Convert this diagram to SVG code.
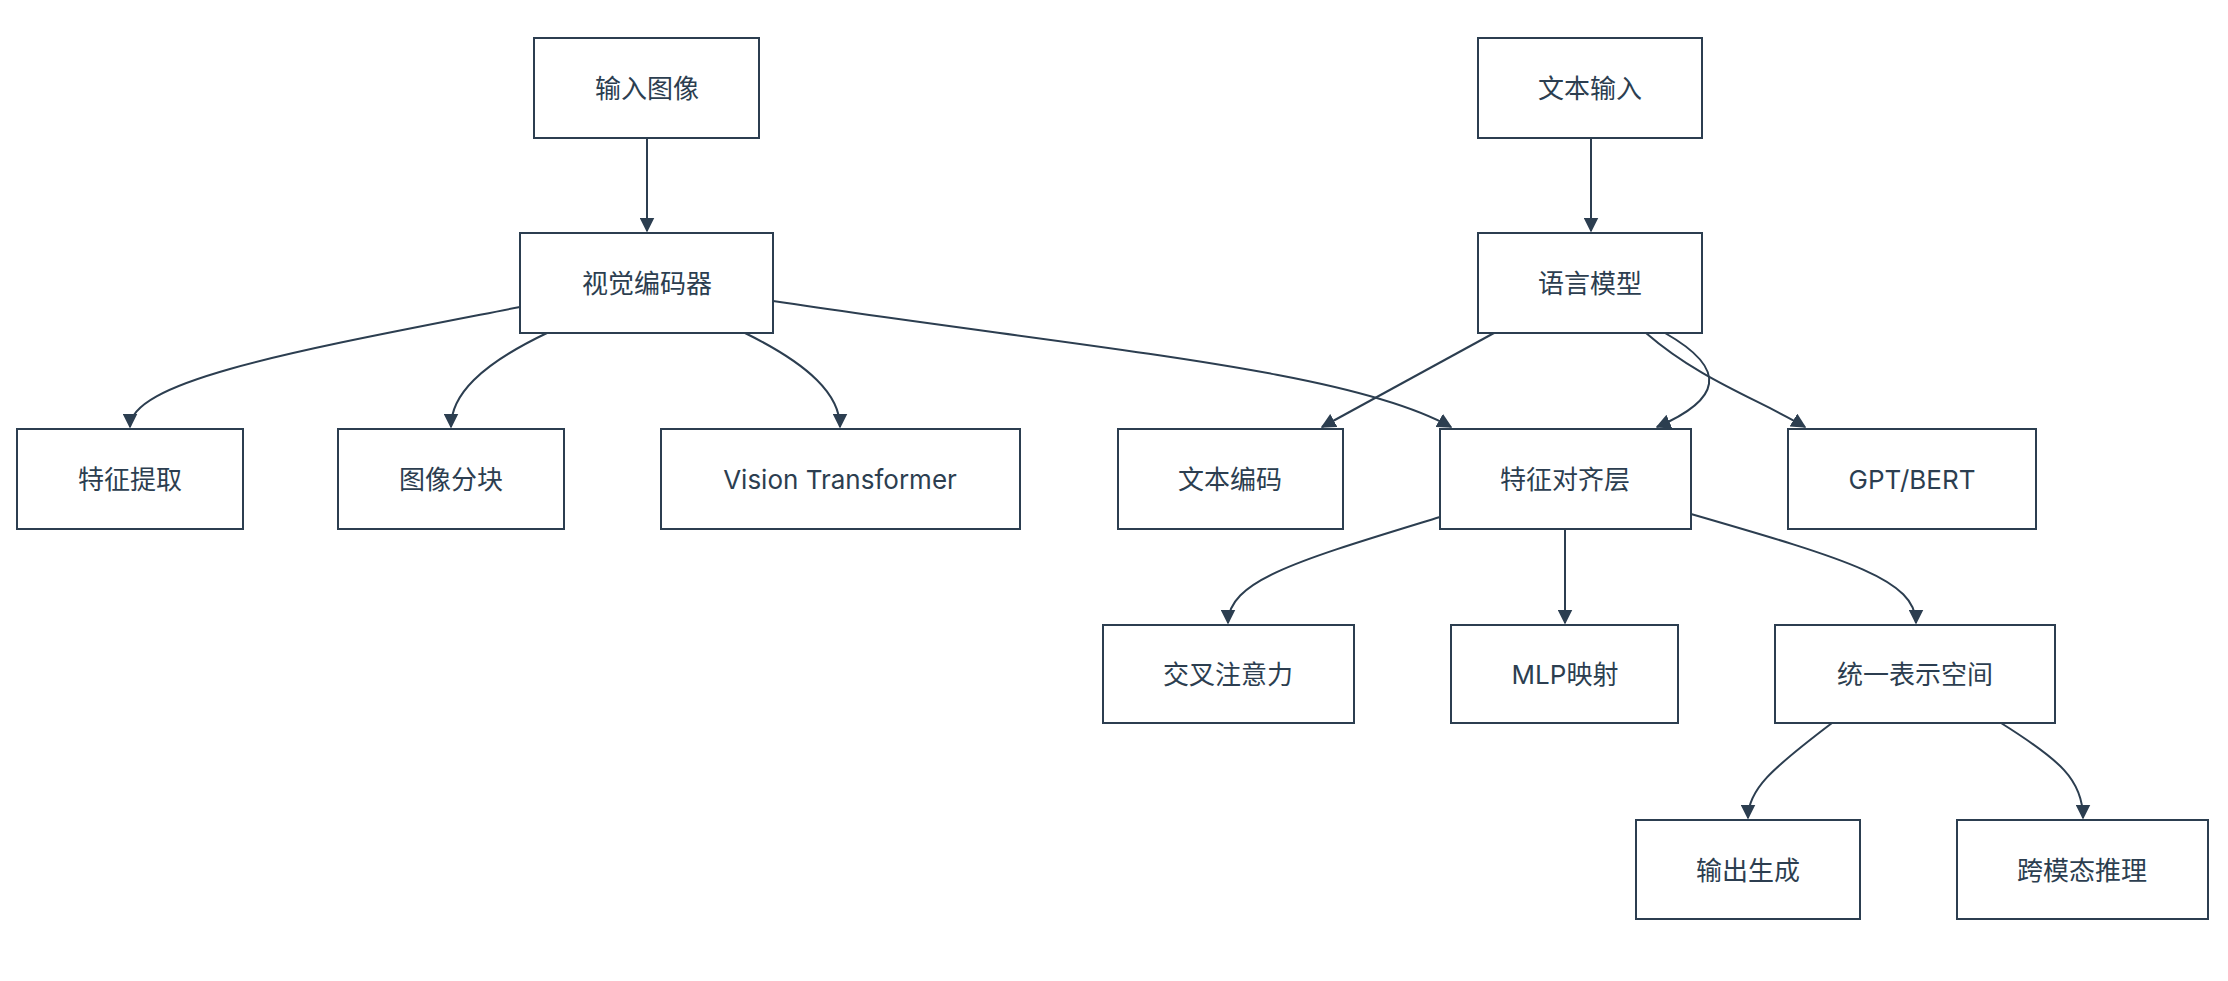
<svg xmlns="http://www.w3.org/2000/svg" width="2228" height="981" viewBox="0 0 2228 981">
<style>
.n rect{fill:#fff;stroke:#2c3e50;stroke-width:2}
.n text{font-family:"Inter","Noto Sans CJK SC",sans-serif;font-size:26px;fill:#2c3e50;text-anchor:middle;dominant-baseline:central}
.e path{fill:none;stroke:#2c3e50;stroke-width:2;marker-end:url(#a)}
</style>
<defs><marker id="a" viewBox="0 0 10 10" refX="9" refY="5" markerWidth="15" markerHeight="15" markerUnits="userSpaceOnUse" orient="auto"><path d="M0,0L10,5L0,10z" fill="#2c3e50"/></marker></defs>
<rect width="2228" height="981" fill="#fff"/>
<g class="e">
<path d="M647,138V231"/>
<path d="M520,307C300,350 130,380 130,427"/>
<path d="M547,333C480,365 451,395 451,427"/>
<path d="M745,333C810,365 840,395 840,427"/>
<path d="M773,301C1100,350 1350,370 1451,427"/>
<path d="M1591,138V231"/>
<path d="M1494,333L1322,427"/>
<path d="M1665,333C1730,370 1720,400 1657,427"/>
<path d="M1646,333C1700,380 1760,400 1805,427"/>
<path d="M1440,517C1300,560 1228,580 1228,623"/>
<path d="M1565,529V623"/>
<path d="M1691,514C1850,560 1916,580 1916,623"/>
<path d="M1832,723C1770,770 1748,790 1748,818"/>
<path d="M2001,723C2060,760 2083,780 2083,818"/>
</g>
<g class="n" id="n1"><rect x="534" y="38" width="225" height="100"/><text x="647" y="88">输入图像</text></g>
<g class="n" id="n2"><rect x="520" y="233" width="253" height="100"/><text x="647" y="283">视觉编码器</text></g>
<g class="n" id="n3"><rect x="1478" y="38" width="224" height="100"/><text x="1590" y="88">文本输入</text></g>
<g class="n" id="n4"><rect x="1478" y="233" width="224" height="100"/><text x="1590" y="283">语言模型</text></g>
<g class="n" id="n5"><rect x="17" y="429" width="226" height="100"/><text x="130" y="479">特征提取</text></g>
<g class="n" id="n6"><rect x="338" y="429" width="226" height="100"/><text x="451" y="479">图像分块</text></g>
<g class="n" id="n7"><rect x="661" y="429" width="359" height="100"/><text x="840" y="479">Vision Transformer</text></g>
<g class="n" id="n8"><rect x="1118" y="429" width="225" height="100"/><text x="1230" y="479">文本编码</text></g>
<g class="n" id="n9"><rect x="1440" y="429" width="251" height="100"/><text x="1565" y="479">特征对齐层</text></g>
<g class="n" id="n10"><rect x="1788" y="429" width="248" height="100"/><text x="1912" y="479">GPT/BERT</text></g>
<g class="n" id="n11"><rect x="1103" y="625" width="251" height="98"/><text x="1228" y="674">交叉注意力</text></g>
<g class="n" id="n12"><rect x="1451" y="625" width="227" height="98"/><text x="1565" y="674">MLP映射</text></g>
<g class="n" id="n13"><rect x="1775" y="625" width="280" height="98"/><text x="1915" y="674">统一表示空间</text></g>
<g class="n" id="n14"><rect x="1636" y="820" width="224" height="99"/><text x="1748" y="870">输出生成</text></g>
<g class="n" id="n15"><rect x="1957" y="820" width="251" height="99"/><text x="2082" y="870">跨模态推理</text></g>
</svg>
